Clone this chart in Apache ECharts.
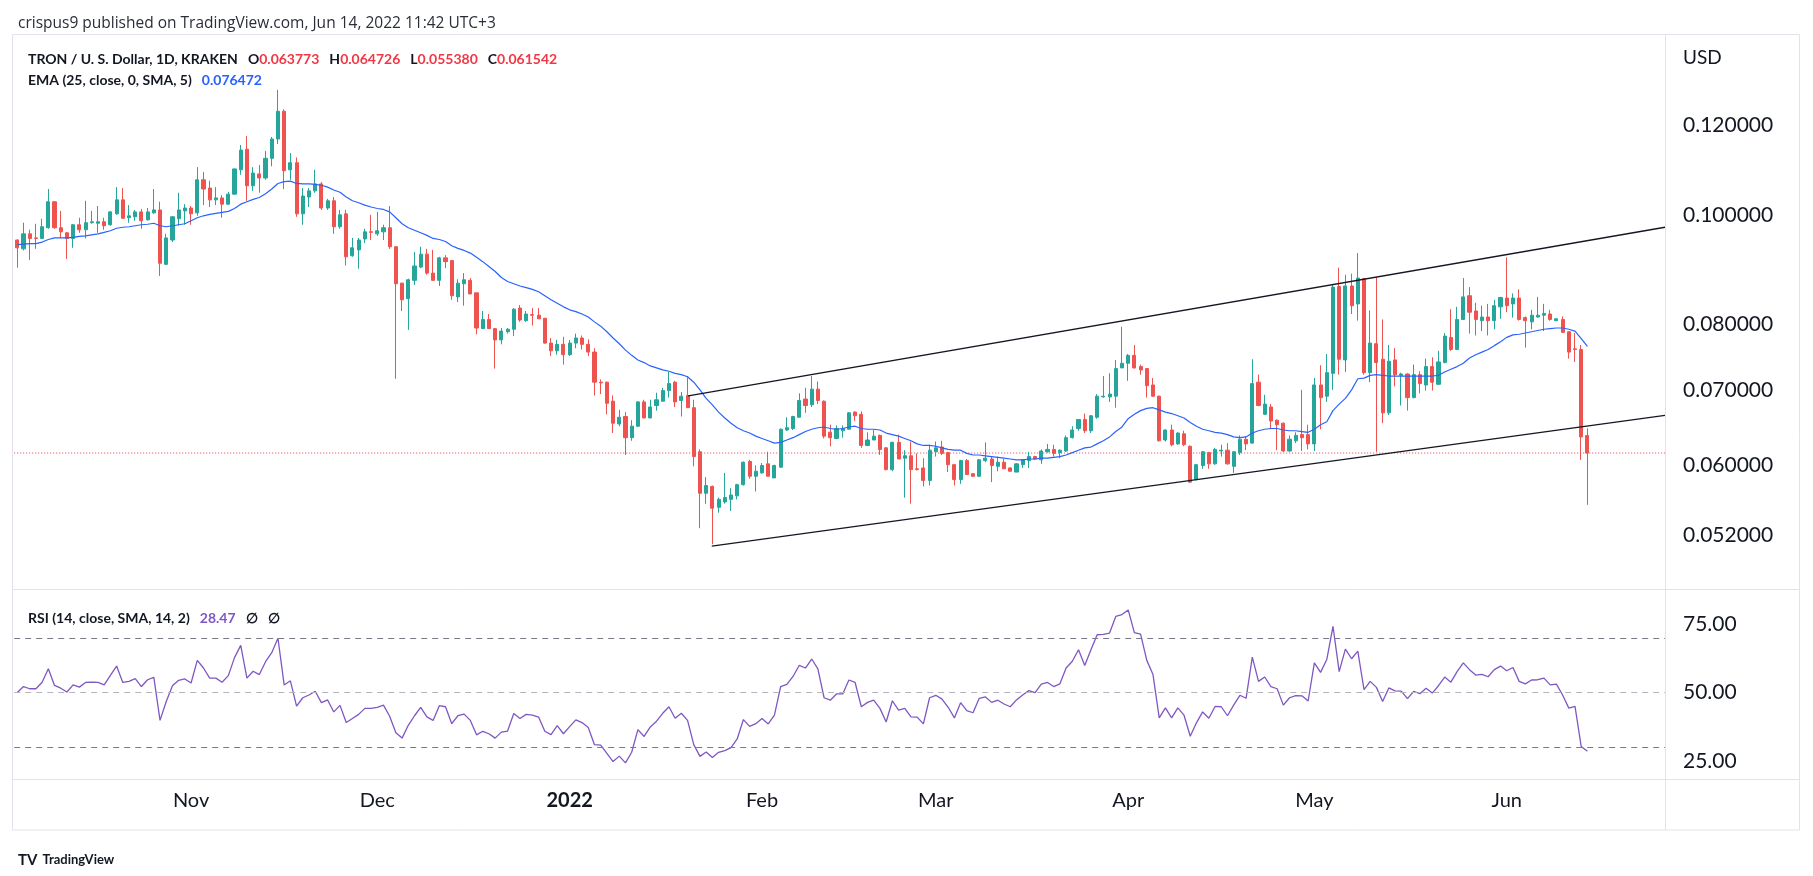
<!DOCTYPE html>
<html><head><meta charset="utf-8">
<script src="https://cdn.jsdelivr.net/npm/echarts@6/dist/echarts.min.js"></script>
<style>html,body{margin:0;padding:0;background:#fff;}#c{width:1813px;height:876px;}</style>
</head><body><div id="c"></div>
<script>
const opens=[0.0950,0.0933,0.0962,0.0954,0.0953,0.0974,0.1027,0.0974,0.0964,0.0953,
0.0980,0.0970,0.0984,0.0983,0.0986,0.0980,0.1002,0.1031,0.0994,0.0996,
0.1006,0.0990,0.1004,0.1010,0.0904,0.0950,0.0992,0.1008,0.1014,0.1004,
0.1074,0.1056,0.1031,0.1035,0.1022,0.1043,0.1096,0.1143,0.1061,0.1087,
0.1078,0.1122,0.1167,0.1235,0.1096,0.1112,0.1002,0.1037,0.1050,0.1065,
0.1014,0.1029,0.0976,0.1002,0.0920,0.0931,0.0952,0.0966,0.0962,0.0966,
0.0974,0.0937,0.0870,0.0843,0.0875,0.0899,0.0923,0.0888,0.0875,0.0916,
0.0911,0.0846,0.0869,0.0875,0.0853,0.0793,0.0808,0.0793,0.0775,0.0788,
0.0792,0.0827,0.0806,0.0816,0.0815,0.0810,0.0770,0.0758,0.0768,0.0752,
0.0770,0.0778,0.0768,0.0756,0.0711,0.0711,0.0684,0.0653,0.0663,0.0635,
0.0650,0.0683,0.0661,0.0678,0.0684,0.0699,0.0711,0.0685,0.0692,0.0675,
0.0617,0.0567,0.0575,0.0551,0.0557,0.0560,0.0564,0.0577,0.0605,0.0587,
0.0591,0.0602,0.0585,0.0598,0.0645,0.0647,0.0662,0.0687,0.0679,0.0701,
0.0684,0.0642,0.0634,0.0644,0.0646,0.0669,0.0666,0.0625,0.0632,0.0638,
0.0622,0.0595,0.0629,0.0609,0.0612,0.0596,0.0597,0.0582,0.0617,0.0623,
0.0616,0.0601,0.0583,0.0606,0.0590,0.0587,0.0606,0.0608,0.0599,0.0604,
0.0597,0.0592,0.0601,0.0606,0.0611,0.0607,0.0617,0.0620,0.0616,0.0618,
0.0635,0.0647,0.0659,0.0644,0.0662,0.0690,0.0690,0.0691,0.0732,0.0739,
0.0751,0.0734,0.0731,0.0707,0.0691,0.0632,0.0645,0.0627,0.0640,0.0624,
0.0583,0.0600,0.0616,0.0602,0.0618,0.0619,0.0599,0.0616,0.0633,0.0628,
0.0711,0.0666,0.0676,0.0658,0.0654,0.0618,0.0631,0.0639,0.0639,0.0627,
0.0707,0.0691,0.0724,0.0864,0.0744,0.0865,0.0834,0.0878,0.0725,0.0769,
0.0745,0.0668,0.0744,0.0721,0.0723,0.0689,0.0722,0.0707,0.0734,0.0708,
0.0740,0.0779,0.0760,0.0808,0.0848,0.0822,0.0806,0.0812,0.0806,0.0829,
0.0844,0.0834,0.0844,0.0811,0.0804,0.0812,0.0815,0.0817,0.0806,0.0808,
0.0788,0.0761,0.0760,0.063773];
const highs=[0.0951,0.0984,0.0970,0.0982,0.0992,0.1054,0.1028,0.1008,0.0965,0.0981,
0.0994,0.1029,0.1008,0.1018,0.0994,0.1008,0.1058,0.1056,0.1020,0.1010,
0.1012,0.1014,0.1054,0.1027,0.0962,0.0997,0.1046,0.1022,0.1018,0.1102,
0.1091,0.1072,0.1058,0.1041,0.1048,0.1099,0.1153,0.1174,0.1102,0.1107,
0.1139,0.1172,0.1290,0.1240,0.1134,0.1124,0.1056,0.1056,0.1096,0.1069,
0.1033,0.1037,0.1010,0.1010,0.0954,0.0954,0.0972,0.1000,0.1006,0.0980,
0.1018,0.0938,0.0871,0.0878,0.0927,0.0937,0.0933,0.0931,0.0918,0.0921,
0.0912,0.0877,0.0888,0.0879,0.0853,0.0822,0.0817,0.0794,0.0794,0.0794,
0.0827,0.0832,0.0822,0.0827,0.0827,0.0810,0.0778,0.0775,0.0780,0.0775,
0.0785,0.0782,0.0776,0.0762,0.0715,0.0712,0.0692,0.0672,0.0669,0.0658,
0.0684,0.0686,0.0686,0.0696,0.0703,0.0726,0.0713,0.0697,0.0720,0.0686,
0.0620,0.0586,0.0576,0.0562,0.0591,0.0573,0.0578,0.0605,0.0607,0.0600,
0.0603,0.0617,0.0601,0.0647,0.0662,0.0664,0.0695,0.0703,0.0720,0.0712,
0.0685,0.0652,0.0651,0.0651,0.0669,0.0670,0.0670,0.0642,0.0645,0.0639,
0.0623,0.0630,0.0639,0.0619,0.0630,0.0615,0.0609,0.0626,0.0630,0.0631,
0.0617,0.0602,0.0607,0.0608,0.0591,0.0608,0.0629,0.0611,0.0611,0.0608,
0.0598,0.0603,0.0608,0.0617,0.0612,0.0620,0.0627,0.0626,0.0620,0.0638,
0.0650,0.0659,0.0667,0.0665,0.0694,0.0720,0.0724,0.0744,0.0796,0.0753,
0.0767,0.0737,0.0732,0.0717,0.0692,0.0646,0.0652,0.0642,0.0644,0.0625,
0.0602,0.0618,0.0617,0.0622,0.0626,0.0628,0.0618,0.0638,0.0637,0.0745,
0.0722,0.0693,0.0680,0.0659,0.0655,0.0638,0.0642,0.0700,0.0652,0.0717,
0.0736,0.0753,0.0867,0.0898,0.0885,0.0887,0.0925,0.0879,0.0823,0.0881,
0.0808,0.0767,0.0762,0.0725,0.0724,0.0737,0.0727,0.0746,0.0748,0.0758,
0.0786,0.0825,0.0829,0.0879,0.0863,0.0836,0.0831,0.0834,0.0841,0.0846,
0.0917,0.0852,0.0859,0.0813,0.0824,0.0846,0.0834,0.0824,0.0810,0.0813,
0.0789,0.0786,0.0767,0.064726];
const lows=[0.0898,0.0930,0.0912,0.0933,0.0953,0.0972,0.0972,0.0954,0.0914,0.0935,
0.0964,0.0953,0.0982,0.0964,0.0970,0.0978,0.1000,0.0992,0.0984,0.0988,
0.0972,0.0988,0.1002,0.0883,0.0903,0.0946,0.0978,0.0980,0.0980,0.0998,
0.1020,0.1016,0.1020,0.0994,0.1020,0.1042,0.1085,0.1029,0.1050,0.1046,
0.1074,0.1104,0.1155,0.1054,0.1074,0.0996,0.0980,0.1016,0.1046,0.1010,
0.1010,0.0962,0.0972,0.0902,0.0918,0.0896,0.0944,0.0950,0.0958,0.0950,
0.0933,0.0716,0.0822,0.0791,0.0867,0.0897,0.0885,0.0874,0.0865,0.0897,
0.0841,0.0837,0.0831,0.0851,0.0784,0.0793,0.0793,0.0731,0.0768,0.0785,
0.0781,0.0804,0.0804,0.0798,0.0809,0.0769,0.0750,0.0752,0.0737,0.0750,
0.0762,0.0760,0.0750,0.0692,0.0694,0.0666,0.0641,0.0650,0.0613,0.0631,
0.0649,0.0661,0.0661,0.0671,0.0684,0.0689,0.0676,0.0663,0.0675,0.0599,
0.0528,0.0555,0.0511,0.0545,0.0555,0.0547,0.0560,0.0576,0.0584,0.0569,
0.0590,0.0587,0.0585,0.0597,0.0644,0.0645,0.0662,0.0668,0.0676,0.0680,
0.0634,0.0624,0.0633,0.0635,0.0646,0.0657,0.0622,0.0624,0.0632,0.0613,
0.0594,0.0593,0.0608,0.0562,0.0555,0.0594,0.0575,0.0576,0.0611,0.0613,
0.0592,0.0576,0.0578,0.0589,0.0586,0.0586,0.0604,0.0580,0.0593,0.0596,
0.0593,0.0592,0.0597,0.0597,0.0607,0.0602,0.0616,0.0611,0.0609,0.0617,
0.0634,0.0644,0.0641,0.0641,0.0660,0.0689,0.0683,0.0675,0.0732,0.0713,
0.0731,0.0722,0.0689,0.0690,0.0630,0.0630,0.0624,0.0626,0.0624,0.0579,
0.0582,0.0596,0.0596,0.0601,0.0611,0.0601,0.0591,0.0613,0.0619,0.0627,
0.0677,0.0665,0.0646,0.0619,0.0617,0.0617,0.0628,0.0618,0.0620,0.0618,
0.0646,0.0683,0.0700,0.0722,0.0726,0.0817,0.0806,0.0722,0.0711,0.0617,
0.0654,0.0665,0.0705,0.0678,0.0671,0.0688,0.0695,0.0699,0.0699,0.0707,
0.0739,0.0758,0.0759,0.0807,0.0785,0.0782,0.0789,0.0782,0.0792,0.0809,
0.0820,0.0811,0.0806,0.0763,0.0792,0.0811,0.0789,0.0806,0.0805,0.0786,
0.0746,0.0741,0.0607,0.055380];
const closes=[0.0935,0.0962,0.0953,0.0953,0.0976,0.1027,0.0974,0.0966,0.0953,0.0980,
0.0970,0.0984,0.0986,0.0986,0.0978,0.1006,0.1031,0.0993,0.0998,0.1006,
0.0988,0.1006,0.1010,0.0906,0.0954,0.0996,0.1010,0.1014,0.1002,0.1074,
0.1054,0.1031,0.1035,0.1022,0.1043,0.1098,0.1141,0.1061,0.1089,0.1078,
0.1122,0.1167,0.1235,0.1094,0.1112,0.1002,0.1039,0.1050,0.1065,0.1014,
0.1029,0.0976,0.1000,0.0918,0.0935,0.0950,0.0966,0.0965,0.0968,0.0974,
0.0937,0.0869,0.0841,0.0876,0.0901,0.0923,0.0888,0.0875,0.0916,0.0909,
0.0848,0.0870,0.0876,0.0851,0.0794,0.0808,0.0793,0.0775,0.0789,0.0792,
0.0825,0.0807,0.0817,0.0815,0.0809,0.0770,0.0758,0.0768,0.0752,0.0770,
0.0778,0.0768,0.0756,0.0711,0.0710,0.0681,0.0654,0.0662,0.0635,0.0650,
0.0683,0.0661,0.0676,0.0686,0.0699,0.0709,0.0683,0.0691,0.0675,0.0611,
0.0567,0.0576,0.0550,0.0560,0.0562,0.0565,0.0577,0.0604,0.0587,0.0593,
0.0600,0.0587,0.0600,0.0646,0.0648,0.0663,0.0685,0.0678,0.0701,0.0685,
0.0637,0.0635,0.0647,0.0647,0.0668,0.0664,0.0625,0.0632,0.0637,0.0620,
0.0595,0.0629,0.0608,0.0612,0.0595,0.0595,0.0582,0.0619,0.0622,0.0615,
0.0601,0.0583,0.0606,0.0589,0.0587,0.0607,0.0609,0.0600,0.0604,0.0596,
0.0593,0.0602,0.0607,0.0611,0.0608,0.0618,0.0620,0.0615,0.0619,0.0635,
0.0645,0.0659,0.0644,0.0664,0.0691,0.0691,0.0694,0.0731,0.0739,0.0751,
0.0732,0.0729,0.0706,0.0691,0.0631,0.0645,0.0626,0.0641,0.0626,0.0580,
0.0601,0.0617,0.0602,0.0620,0.0619,0.0602,0.0617,0.0633,0.0627,0.0709,
0.0678,0.0680,0.0657,0.0652,0.0618,0.0633,0.0638,0.0635,0.0627,0.0707,
0.0689,0.0725,0.0863,0.0745,0.0865,0.0831,0.0879,0.0725,0.0770,0.0740,
0.0668,0.0742,0.0722,0.0723,0.0689,0.0722,0.0709,0.0734,0.0711,0.0741,
0.0781,0.0760,0.0808,0.0846,0.0820,0.0808,0.0812,0.0806,0.0831,0.0845,
0.0831,0.0844,0.0808,0.0806,0.0815,0.0815,0.0818,0.0808,0.0809,0.0787,
0.0756,0.0760,0.0636,0.061542];
const ema25=[0.0941,0.0942,0.0943,0.0943,0.0946,0.0951,0.0954,0.0954,0.0954,0.0955,
0.0957,0.0958,0.0960,0.0962,0.0965,0.0968,0.0973,0.0975,0.0976,0.0978,
0.0980,0.0981,0.0983,0.0978,0.0976,0.0978,0.0980,0.0982,0.0988,0.0994,
0.0998,0.1001,0.1003,0.1005,0.1007,0.1013,0.1022,0.1027,0.1032,0.1036,
0.1044,0.1054,0.1066,0.1070,0.1071,0.1066,0.1065,0.1065,0.1064,0.1062,
0.1058,0.1052,0.1047,0.1037,0.1029,0.1025,0.1020,0.1016,0.1013,0.1011,
0.1006,0.0994,0.0982,0.0974,0.0969,0.0964,0.0959,0.0953,0.0951,0.0947,
0.0939,0.0934,0.0930,0.0925,0.0917,0.0909,0.0900,0.0891,0.0880,0.0873,
0.0869,0.0865,0.0862,0.0859,0.0855,0.0848,0.0841,0.0835,0.0829,0.0824,
0.0821,0.0817,0.0812,0.0804,0.0797,0.0788,0.0778,0.0769,0.0759,0.0751,
0.0744,0.0740,0.0735,0.0732,0.0729,0.0727,0.0724,0.0722,0.0719,0.0711,
0.0700,0.0688,0.0679,0.0669,0.0661,0.0654,0.0648,0.0644,0.0641,0.0637,
0.0634,0.0631,0.0628,0.0629,0.0632,0.0635,0.0639,0.0643,0.0646,0.0648,
0.0649,0.0647,0.0646,0.0647,0.0649,0.0650,0.0647,0.0646,0.0646,0.0645,
0.0641,0.0639,0.0637,0.0634,0.0631,0.0627,0.0625,0.0625,0.0624,0.0622,
0.0620,0.0619,0.0619,0.0615,0.0613,0.0613,0.0612,0.0611,0.0610,0.0609,
0.0608,0.0607,0.0607,0.0608,0.0608,0.0609,0.0609,0.0610,0.0611,0.0613,
0.0616,0.0619,0.0622,0.0623,0.0627,0.0631,0.0636,0.0643,0.0649,0.0660,
0.0666,0.0671,0.0674,0.0675,0.0672,0.0669,0.0667,0.0664,0.0661,0.0655,
0.0650,0.0646,0.0644,0.0642,0.0641,0.0639,0.0636,0.0635,0.0636,0.0641,
0.0644,0.0646,0.0647,0.0647,0.0645,0.0644,0.0644,0.0643,0.0642,0.0646,
0.0652,0.0656,0.0671,0.0680,0.0688,0.0700,0.0716,0.0717,0.0721,0.0722,
0.0721,0.0720,0.0720,0.0720,0.0720,0.0720,0.0720,0.0720,0.0720,0.0721,
0.0726,0.0730,0.0734,0.0739,0.0747,0.0752,0.0756,0.0760,0.0766,0.0772,
0.0779,0.0783,0.0784,0.0786,0.0788,0.0790,0.0792,0.0793,0.0794,0.0794,
0.0792,0.0789,0.0777,0.076472];
const rsi14=[50.0,52.2,51.4,51.4,53.8,58.7,52.6,51.6,50.2,52.8,
52.0,53.7,53.8,53.7,52.8,56.3,59.7,53.7,54.1,55.1,
52.2,54.7,55.6,39.8,46.7,52.5,54.5,55.0,53.5,61.8,
59.0,55.3,55.3,53.8,56.2,62.8,67.3,55.3,57.8,56.6,
61.3,64.6,69.9,52.8,54.3,45.0,48.1,49.1,50.5,46.3,
47.3,42.9,45.3,39.0,40.5,42.0,44.2,44.2,44.6,45.4,
41.3,35.3,33.3,38.0,41.5,44.6,41.1,39.8,45.2,44.8,
38.6,41.5,42.1,39.8,34.5,35.8,34.9,33.3,35.5,35.9,
42.3,40.5,42.0,41.7,41.0,35.8,34.6,37.9,34.9,37.5,
40.0,39.0,37.2,30.9,30.7,27.7,24.7,26.7,24.2,28.1,
36.4,33.9,37.4,39.5,42.4,44.8,40.6,42.4,39.8,30.9,
26.6,28.2,26.2,28.1,28.7,29.8,33.0,40.1,37.6,38.6,
40.5,38.5,41.7,52.2,53.0,55.9,60.0,59.0,62.3,58.7,
48.1,47.2,49.5,49.5,54.6,53.7,44.8,46.4,47.2,44.2,
39.2,47.0,43.6,44.2,41.1,41.0,38.5,48.1,49.0,47.6,
44.6,40.7,46.3,43.4,42.6,47.9,48.4,46.4,47.2,45.8,
44.8,47.3,49.1,50.7,50.0,53.1,53.7,52.2,53.2,59.0,
61.5,65.7,59.9,65.7,71.2,71.3,71.8,77.9,78.6,80.3,
72.0,71.4,61.8,56.6,40.7,44.4,40.7,44.4,41.7,34.0,
38.9,42.9,40.6,44.9,44.8,41.5,45.4,49.0,47.9,63.0,
54.1,55.7,52.2,51.4,45.4,48.1,48.9,48.8,46.9,60.9,
57.4,62.1,74.3,57.7,65.9,62.4,65.2,51.1,54.1,51.9,
46.7,51.7,50.6,50.5,47.8,50.4,49.6,51.6,49.8,52.5,
55.7,53.8,57.7,60.9,58.4,56.4,56.7,55.8,58.4,59.7,
58.0,59.2,54.1,53.2,54.6,54.7,55.3,52.8,53.1,49.1,
44.3,44.9,30.2,28.47];
const priceTicks=[0.052,0.06,0.07,0.08,0.1,0.12];
const rsiTicks=[25,50,75];
const rsiLevels=[70,50,30];
const lastClose=0.061542;
const upperChannel=[[108.1,0.06915],[265.5,0.0975]];
const lowerChannel=[[111.9,0.0509],[265.5,0.06646]];
const monthNames=['Jan','Feb','Mar','Apr','May','Jun','Jul','Aug','Sep','Oct','Nov','Dec'];

const NCAT=266;
const categories=[];
const t0=Date.UTC(2021,9,4);
for(let k=0;k<NCAT;k++){categories.push(new Date(t0+k*86400000).toISOString().slice(0,10));}
const candleData=opens.map((o,i)=>[o,closes[i],lows[i],highs[i]]);
const lastPriceLine=[[-0.5,lastClose],[NCAT-0.5,lastClose]];

const FONT='Lato, "Open Sans", sans-serif';
const TXT='#131722';
const BORDER='#e0e3eb';
const GL=14.2, GW=1650.8;

const chart=echarts.init(document.getElementById('c'),null,{renderer:'canvas'});
chart.setOption({
  animation:false,
  backgroundColor:'#ffffff',
  title:[
    {text:'crispus9 published on TradingView.com, Jun 14, 2022 11:42 UTC+3',left:13,top:11,
      textStyle:{fontFamily:'"Open Sans", Lato, sans-serif',fontSize:15.5,fontWeight:'normal',color:'#2a2e39'}},
    {text:'{t|TRON / U. S. Dollar, 1D, KRAKEN}  {t|O}{v|0.063773}  {t|H}{v|0.064726}  {t|L}{v|0.055380}  {t|C}{v|0.061542}',
      left:23,top:45,textStyle:{rich:{t:{fontFamily:FONT,fontSize:14,color:TXT},v:{fontFamily:FONT,fontSize:14,color:'#f23645'}}}},
    {text:'{t|EMA (25, close, 0, SMA, 5)}  {v|0.076472}',
      left:23,top:66,textStyle:{rich:{t:{fontFamily:FONT,fontSize:14,color:TXT},v:{fontFamily:FONT,fontSize:14,color:'#2962ff'}}}},
    {text:'{t|RSI (14, close, SMA, 14, 2)}  {v|28.47}  {t|\u2205}  {t|\u2205}',
      left:23,top:604,textStyle:{rich:{t:{fontFamily:FONT,fontSize:14,color:TXT},v:{fontFamily:FONT,fontSize:14,color:'#7e57c2'}}}},
    {text:'USD',left:1678,top:43,textStyle:{fontFamily:FONT,fontSize:19,fontWeight:'normal',color:TXT}},
    {text:'{b|TV} {t|TradingView}',left:13,top:846,textStyle:{rich:{b:{fontFamily:FONT,fontSize:15,fontWeight:'bold',color:'#131722'},t:{fontFamily:FONT,fontSize:13,color:'#131722'}}}}
  ],
  graphic:[
    {type:'rect',silent:true,z:-1,shape:{x:12.5,y:34.5,width:1787,height:795.5},style:{fill:'none',stroke:BORDER,lineWidth:1}},
    {type:'line',silent:true,shape:{x1:1665.5,y1:34.5,x2:1665.5,y2:830},style:{stroke:BORDER,lineWidth:1}},
    {type:'line',silent:true,shape:{x1:12.5,y1:589.5,x2:1799.5,y2:589.5},style:{stroke:BORDER,lineWidth:1}},
    {type:'line',silent:true,shape:{x1:12.5,y1:779.5,x2:1799.5,y2:779.5},style:{stroke:BORDER,lineWidth:1}}
  ],
  grid:[
    {left:GL,top:34,width:GW,height:555.7},
    {left:GL,top:590,width:GW,height:189.3}
  ],
  xAxis:[
    {type:'category',gridIndex:0,data:categories,boundaryGap:true,axisLine:{show:false},axisTick:{show:false},axisLabel:{show:false},splitLine:{show:false}},
    {type:'category',gridIndex:1,data:categories,boundaryGap:true,axisLine:{show:false},axisTick:{show:false},splitLine:{show:false},
      axisLabel:{show:true,interval:(idx,val)=>val.slice(8,10)==='01',margin:11,fontFamily:FONT,fontSize:20,color:TXT,
        formatter:(val)=>{const m=+val.slice(5,7);return m===1?'{y|'+val.slice(0,4)+'}':monthNames[m-1];},
        rich:{y:{fontFamily:FONT,fontSize:20,fontWeight:'bold',color:TXT}}}},
    {type:'value',gridIndex:0,min:-0.5,max:NCAT-0.5,show:false}
  ],
  yAxis:[
    {type:'log',logBase:10,gridIndex:0,position:'right',min:0.046584,max:0.14455,
      axisLine:{show:false},axisTick:{show:false},splitLine:{show:false},
      axisLabel:{customValues:priceTicks,formatter:(v)=>Number(v).toFixed(6),margin:18,fontFamily:FONT,fontSize:21,color:TXT}},
    {type:'value',gridIndex:1,position:'right',min:18.2,max:87.6,
      axisLine:{show:false},axisTick:{show:false},splitLine:{show:false},
      axisLabel:{customValues:rsiTicks,formatter:(v)=>Number(v).toFixed(2),margin:18,fontFamily:FONT,fontSize:21,color:TXT}}
  ],
  series:[
    {type:'line',xAxisIndex:2,yAxisIndex:0,data:lastPriceLine,showSymbol:false,symbol:'none',silent:true,
      lineStyle:{color:'#f23645',type:[1,2],width:1},z:1},
    {type:'candlestick',xAxisIndex:0,yAxisIndex:0,data:candleData,barWidth:3.6,z:2,
      itemStyle:{color:'#26a69a',color0:'#ef5350',borderColor:'#26a69a',borderColor0:'#ef5350',borderWidth:1}},
    {type:'line',name:'EMA',xAxisIndex:0,yAxisIndex:0,data:ema25,showSymbol:false,symbol:'none',
      lineStyle:{color:'#2962ff',width:1.2},z:3},
    {type:'line',xAxisIndex:2,yAxisIndex:0,data:upperChannel,showSymbol:false,symbol:'none',lineStyle:{color:'#131722',width:1.3},z:4},
    {type:'line',xAxisIndex:2,yAxisIndex:0,data:lowerChannel,showSymbol:false,symbol:'none',lineStyle:{color:'#131722',width:1.3},z:4},
    {type:'line',name:'RSI',xAxisIndex:1,yAxisIndex:1,data:rsi14,showSymbol:false,symbol:'none',
      lineStyle:{color:'#7e57c2',width:1.3},
      markLine:{silent:true,symbol:['none','none'],label:{show:false},
        data:rsiLevels.map(v=>({yAxis:v,lineStyle:{color:v===50?'#b2b5be':'#787b86',type:[6,5],width:1}}))}}
  ]
});
</script></body></html>
